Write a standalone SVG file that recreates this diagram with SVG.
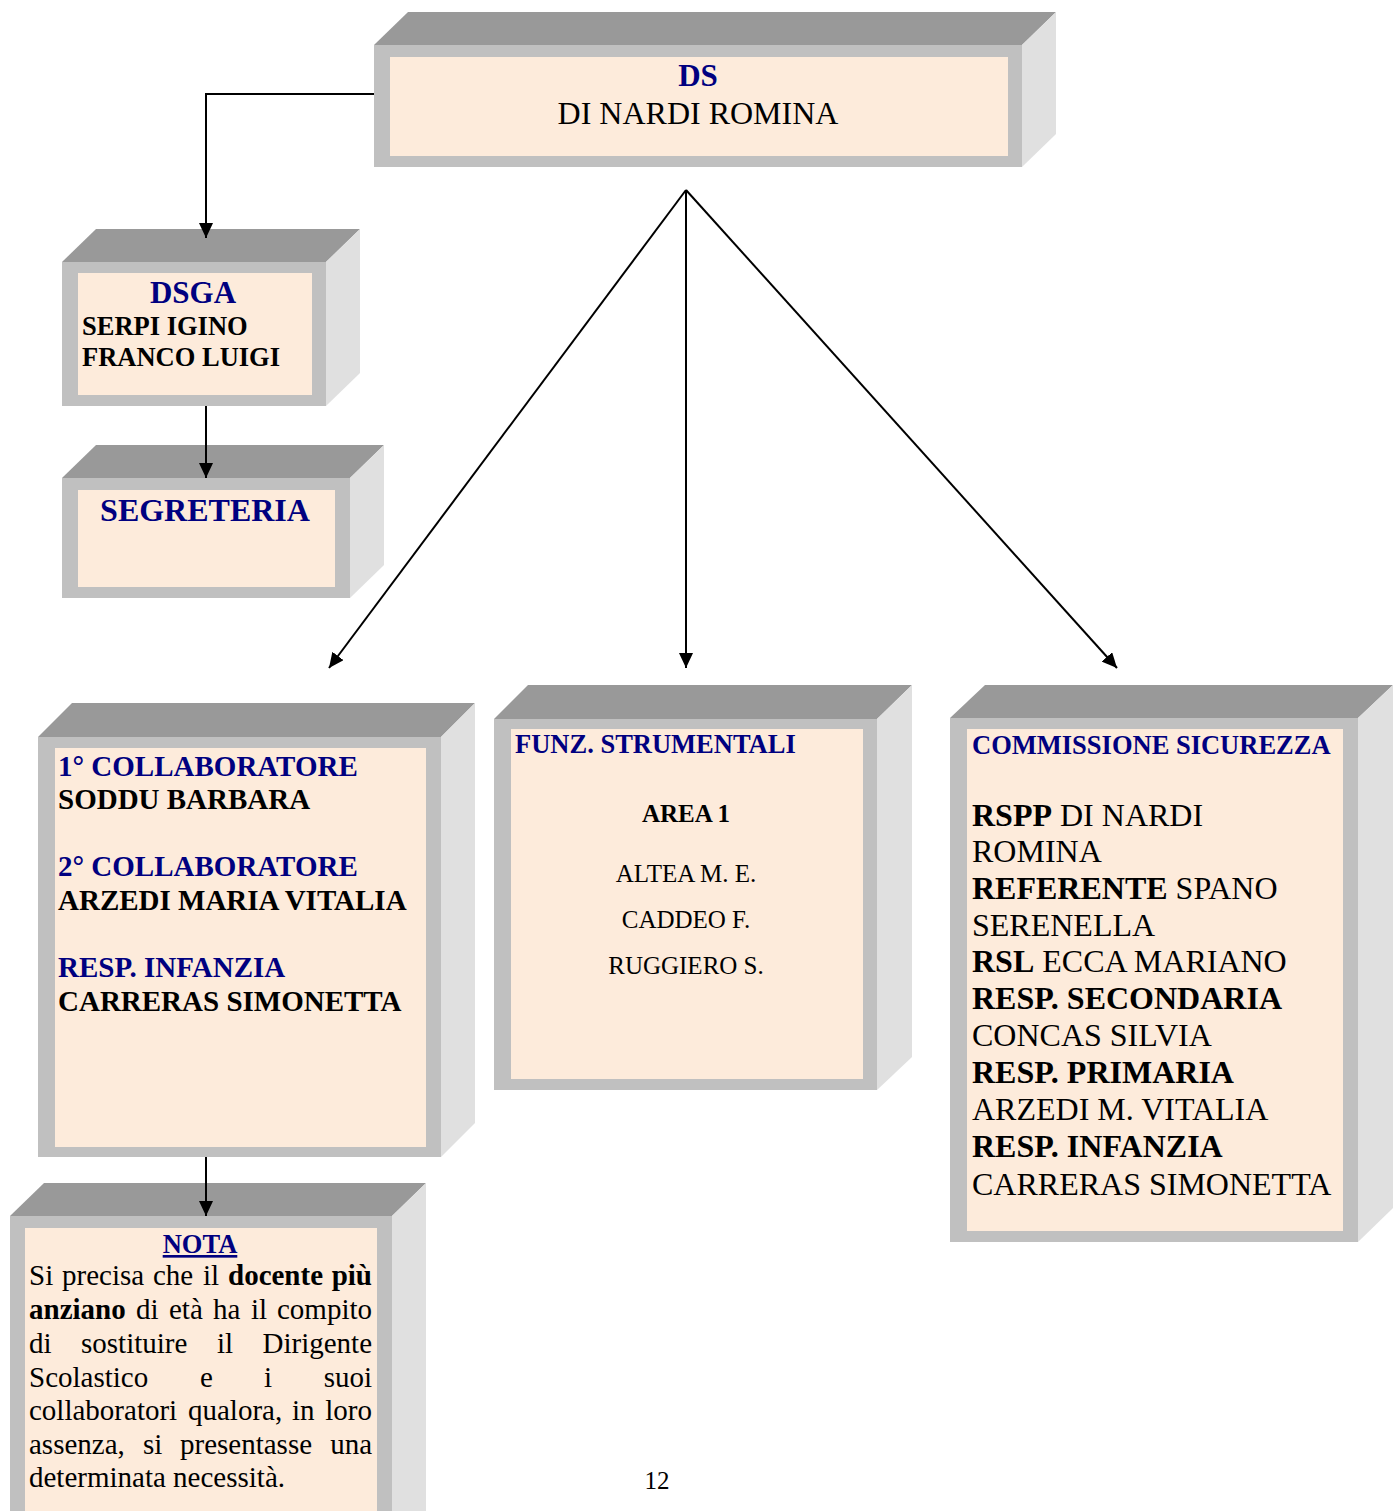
<svg xmlns="http://www.w3.org/2000/svg" width="1399" height="1511" viewBox="0 0 1399 1511">
<style>
.top{fill:#999999}
.side{fill:#e0e0e0}
.front{fill:#c0c0c0}
.inner{fill:#fdebdb}
text{font-family:"Liberation Serif","Times New Roman",serif;fill:#000}
.nv{fill:#000080;font-weight:bold}
.b{font-weight:bold}
.conn{stroke:#000;stroke-width:2;fill:none}
</style>
<defs>
<marker id="arr" markerUnits="userSpaceOnUse" markerWidth="16" markerHeight="14" refX="15" refY="7" orient="auto">
<path d="M0,0 L15,7 L0,14 z" fill="#000"/>
</marker>
</defs>
<rect width="1399" height="1511" fill="#fff"/>

<g id="ds">
<polygon class="top" points="374,45 408,12 1056,12 1022,45"/>
<polygon class="side" points="1022,45 1056,12 1056,134 1022,167"/>
<rect class="front" x="374" y="45" width="648" height="122"/>
<rect class="inner" x="390" y="57" width="618" height="99"/>
<text class="nv" x="698" y="86" font-size="31" text-anchor="middle">DS</text>
<text x="698" y="124" font-size="32" text-anchor="middle">DI NARDI ROMINA</text>
</g>

<g id="dsga">
<polygon class="top" points="62,262 96,229 360,229 326,262"/>
<polygon class="side" points="326,262 360,229 360,373 326,406"/>
<rect class="front" x="62" y="262" width="264" height="144"/>
<rect class="inner" x="78" y="273" width="234" height="122"/>
<text class="nv" x="193" y="303" font-size="31" text-anchor="middle">DSGA</text>
<text class="b" x="82" y="335" font-size="26.5">SERPI IGINO</text>
<text class="b" x="82" y="366" font-size="26.5">FRANCO LUIGI</text>
</g>

<g id="segreteria">
<polygon class="top" points="62,478 96,445 384,445 350,478"/>
<polygon class="side" points="350,478 384,445 384,565 350,598"/>
<rect class="front" x="62" y="478" width="288" height="120"/>
<rect class="inner" x="78" y="490" width="257" height="97"/>
<text class="nv" x="205" y="521" font-size="32" text-anchor="middle">SEGRETERIA</text>
</g>

<g id="collaboratori">
<polygon class="top" points="38,737 72,703 475,703 441,737"/>
<polygon class="side" points="441,737 475,703 475,1123 441,1157"/>
<rect class="front" x="38" y="737" width="403" height="420"/>
<rect class="inner" x="55" y="748" width="371" height="399"/>
<text class="nv" x="58" y="776" font-size="29">1° COLLABORATORE</text>
<text class="b" x="58" y="809" font-size="29">SODDU BARBARA</text>
<text class="nv" x="58" y="876" font-size="29">2° COLLABORATORE</text>
<text class="b" x="58" y="910" font-size="29">ARZEDI MARIA VITALIA</text>
<text class="nv" x="58" y="977" font-size="29">RESP. INFANZIA</text>
<text class="b" x="58" y="1011" font-size="29">CARRERAS SIMONETTA</text>
</g>

<g id="nota">
<polygon class="top" points="10,1216 44,1183 426,1183 392,1216"/>
<polygon class="side" points="392,1216 426,1183 426,1520 392,1520"/>
<rect class="front" x="10" y="1216" width="382" height="304"/>
<rect class="inner" x="25" y="1228" width="352" height="300"/>
<text class="nv" x="200" y="1253" font-size="26.5" text-anchor="middle" text-decoration="underline">NOTA</text>
<g font-size="29">
<text x="29" y="1285">Si</text>
<text x="62" y="1285">precisa</text>
<text x="153" y="1285">che</text>
<text x="203" y="1285">il</text>
<text class="b" x="228" y="1285">docente</text>
<text class="b" x="372" y="1285" text-anchor="end">più</text>
<text class="b" x="29" y="1319">anziano</text>
<text x="136" y="1319">di</text>
<text x="169" y="1319">età</text>
<text x="213" y="1319">ha</text>
<text x="251" y="1319">il</text>
<text x="372" y="1319" text-anchor="end">compito</text>
<text x="29" y="1353">di</text>
<text x="81" y="1353">sostituire</text>
<text x="217" y="1353">il</text>
<text x="372" y="1353" text-anchor="end">Dirigente</text>
<text x="29" y="1387">Scolastico</text>
<text x="200" y="1387">e</text>
<text x="264" y="1387">i</text>
<text x="372" y="1387" text-anchor="end">suoi</text>
<text x="29" y="1420">collaboratori</text>
<text x="188" y="1420">qualora,</text>
<text x="292" y="1420">in</text>
<text x="372" y="1420" text-anchor="end">loro</text>
<text x="29" y="1454">assenza,</text>
<text x="143" y="1454">si</text>
<text x="180" y="1454">presentasse</text>
<text x="372" y="1454" text-anchor="end">una</text>
<text x="29" y="1487">determinata necessità.</text>
</g>
</g>

<g id="funz">
<polygon class="top" points="494,719 528,685 912,685 877,719"/>
<polygon class="side" points="877,719 912,685 912,1057 877,1090"/>
<rect class="front" x="494" y="719" width="383" height="371"/>
<rect class="inner" x="511" y="729" width="352" height="350"/>
<text class="nv" x="515" y="753" font-size="26.5">FUNZ. STRUMENTALI</text>
<text class="b" x="686" y="822" font-size="25" text-anchor="middle">AREA 1</text>
<text x="686" y="882" font-size="25" text-anchor="middle">ALTEA M. E.</text>
<text x="686" y="928" font-size="25" text-anchor="middle">CADDEO F.</text>
<text x="686" y="974" font-size="25" text-anchor="middle">RUGGIERO S.</text>
</g>

<g id="sicurezza">
<polygon class="top" points="950,718 985,685 1393,685 1358,718"/>
<polygon class="side" points="1358,718 1393,685 1393,1208 1358,1242"/>
<rect class="front" x="950" y="718" width="408" height="524"/>
<rect class="inner" x="967" y="729" width="376" height="502"/>
<text class="nv" x="972" y="754" font-size="26.5">COMMISSIONE SICUREZZA</text>
<g font-size="32">
<text x="972" y="826"><tspan class="b">RSPP</tspan> DI NARDI</text>
<text x="972" y="862">ROMINA</text>
<text x="972" y="899"><tspan class="b">REFERENTE</tspan> SPANO</text>
<text x="972" y="936">SERENELLA</text>
<text x="972" y="972"><tspan class="b">RSL</tspan> ECCA MARIANO</text>
<text class="b" x="972" y="1009">RESP. SECONDARIA</text>
<text x="972" y="1046">CONCAS SILVIA</text>
<text class="b" x="972" y="1083">RESP. PRIMARIA</text>
<text x="972" y="1120">ARZEDI M. VITALIA</text>
<text class="b" x="972" y="1157">RESP. INFANZIA</text>
<text x="972" y="1195">CARRERAS SIMONETTA</text>
</g>
</g>

<text x="657" y="1489" font-size="25" text-anchor="middle">12</text>

<g id="connectors">
<path class="conn" d="M374,94 H206 V238" marker-end="url(#arr)"/>
<path class="conn" d="M206,406 V478" marker-end="url(#arr)"/>
<path class="conn" d="M206,1157 V1216" marker-end="url(#arr)"/>
<path class="conn" d="M686,190 L329,668" marker-end="url(#arr)"/>
<path class="conn" d="M686,190 V668" marker-end="url(#arr)"/>
<path class="conn" d="M686,190 L1117,668" marker-end="url(#arr)"/>
</g>
</svg>
